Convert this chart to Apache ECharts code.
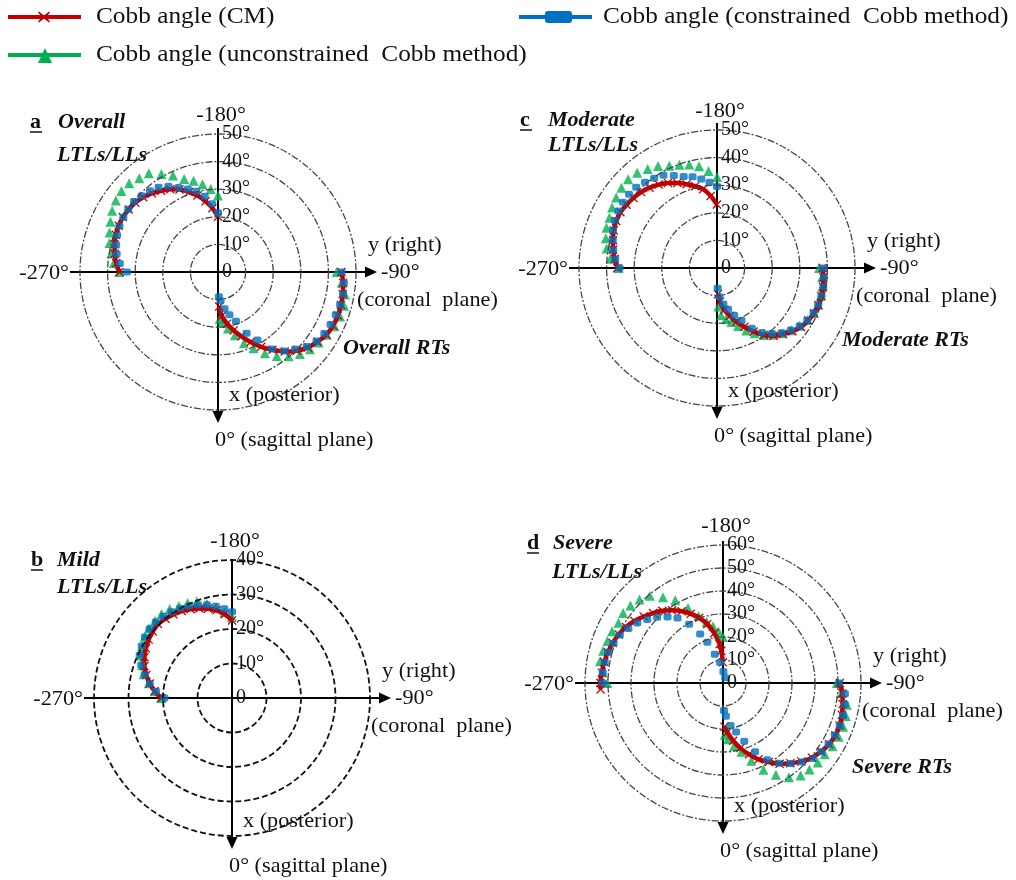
<!DOCTYPE html>
<html>
<head>
<meta charset="utf-8">
<script src="https://cdn.jsdelivr.net/npm/echarts@6/dist/echarts.min.js"></script>
<style>
  html, body { margin: 0; padding: 0; background: #fff; }
  #chart { width: 1016px; height: 880px; }
</style>
</head>
<body>
<div id="chart"></div>
<script>
// Plane-orientation angles (deg): 0 = sagittal (down), -90 = coronal (right), -180 = up, -270 = left
const ANG_LTL = [-180, -185, -190, -195, -200, -205, -210, -215, -220, -225, -230, -235, -240, -245, -250, -255, -260, -265, -270];
const ANG_RT  = [-90, -85, -80, -75, -70, -65, -60, -55, -50, -45, -40, -35, -30, -25, -20, -15, -10, -5, -2];

// a: Overall
const A_LTL_CM  = [20, 23.2, 26, 28.7, 30.8, 33, 34.6, 35.9, 37.2, 38.3, 39.1, 39.5, 39.8, 39.7, 39.4, 38.8, 38, 37, 35.7];
const A_LTL_CON = [21.5, 24.8, 27.9, 30.3, 32, 33.8, 35.9, 37.5, 38.4, 39.1, 39.7, 39.7, 39.6, 39.4, 38.9, 38.2, 37.3, 35.7, 33];
const A_LTL_UNC = [27.7, 30.2, 32.3, 34.2, 35.9, 38.6, 41, 43.7, 44.4, 45.5, 45.7, 45.2, 44.3, 43, 41.8, 40.7, 39.2, 37.9, 35.7];
const A_RT_CM   = [44.7, 45.5, 45.9, 46.1, 46.2, 46, 45.4, 44, 42.5, 40.4, 37.6, 34.4, 31.3, 28, 24.8, 21.9, 19, 16, 12.5];
const A_RT_CON  = [44.8, 45.8, 46, 45.8, 45.4, 45, 44.5, 43.6, 42, 39.5, 37.4, 34.1, 28.5, 24.5, 19, 16, 13.5, 10.5, 9];
const A_RT_UNC  = [43, 45, 46.7, 47.3, 47.1, 46.6, 45.5, 44.5, 43.5, 42, 39.8, 37.2, 34, 30.5, 27.5, 23.7, 20.8, 18.5, 17];

// c: Moderate
const C_LTL_CM  = [23, 26.2, 29, 30.7, 32.3, 34, 35.6, 36.9, 38, 38.9, 39.5, 40, 40.4, 40.3, 39.8, 39, 38.2, 37.2, 36.1];
const C_LTL_CON = [29.5, 31.2, 32.7, 34.2, 35.3, 37, 38.8, 39.7, 40.6, 41.4, 41.6, 41.6, 41.3, 40.8, 40.1, 39.1, 38.2, 37, 35.3];
const C_LTL_UNC = [33, 35.3, 37.4, 38.8, 39.8, 40.9, 42.7, 43.8, 45, 45.5, 45.2, 44.6, 43.9, 43, 42.6, 41.7, 40.6, 38.8, 35.7];
const C_RT_CM   = [38.3, 38.7, 39, 39.1, 39.1, 38.8, 38.1, 37.2, 35.7, 33.8, 32, 29.6, 26.6, 23.5, 20.8, 18, 15.4, 12.2, 9.5];
const C_RT_CON  = [38.5, 38.9, 39.1, 39.2, 39, 38.6, 37.8, 36.6, 35, 33.2, 31, 28.5, 25.2, 21, 18.2, 15.5, 13.2, 10.5, 7.3];
const C_RT_UNC  = [37, 38.2, 38.8, 38.9, 38.9, 38.6, 37.7, 36.5, 35.1, 33.4, 31.6, 29.6, 27.3, 25, 22.4, 20.3, 18.9, 17.2, 14];

// b: Mild (LTLs/LLs only)
const B_LTL_CM  = [22.5, 24.4, 25.8, 26.8, 27.6, 28.4, 29.1, 29.6, 30, 30.3, 30, 29.5, 28.8, 28, 27, 25.7, 24.2, 22.5, 20.5];
const B_LTL_CON = [25, 26, 27, 28, 28.8, 29.4, 30, 30.5, 30.9, 31.2, 31.2, 30.8, 30.2, 29.5, 28, 26.2, 24.2, 22.1, 19.6];
const B_LTL_UNC = [23.5, 25, 26.6, 28.3, 29.8, 30.4, 30.8, 31.5, 31.8, 31.6, 31.4, 30.9, 30.1, 29.1, 27.7, 26.5, 24.5, 22.5, 20.5];

// d: Severe
const D_LTL_CM_ANG  = [-180, -183, -185, -190, -195, -200, -205, -210, -215, -220, -225, -230, -235, -240, -245, -250, -255, -260, -265, -270, -273];
const D_LTL_CM      = [9, 14, 17, 22, 26.5, 30.2, 33.2, 36, 38.6, 41, 43, 45, 47, 48.7, 50, 51, 51.8, 52.4, 52.9, 53.3, 53.3];
const D_LTL_CON_ANG = [-157, -178, -188, -196, -201, -205, -210, -215, -220, -225, -230, -235, -240, -245, -250, -255, -260, -265, -270];
const D_LTL_CON     = [2.5, 5, 9, 13, 19, 23.5, 29.5, 34.5, 37.5, 40.5, 43, 45.5, 47.5, 49.5, 50.6, 51.7, 52.2, 52.5, 52.3];
const D_LTL_UNC     = [20, 22.5, 25, 27.5, 31, 36, 41.5, 45.5, 49.5, 51.3, 52.5, 53, 52.5, 53.2, 53.5, 54, 54.3, 52.5, 50.3];
const D_RT_CM       = [50.8, 52.1, 52.8, 53.5, 53.9, 53.9, 53.2, 52, 50.5, 48.2, 45.5, 42.9, 39.7, 36.6, 33, 29.3, 25.5, 21.5, 19];
const D_RT_CON      = [50.5, 53.2, 53.8, 54, 54, 53.6, 53, 52.2, 51, 48.5, 45.7, 42.6, 38.5, 33, 27, 22, 18.8, 14.5, 12];
const D_RT_UNC      = [49.5, 51.5, 54.7, 55.3, 55.6, 55.4, 55, 54, 53.8, 53.2, 52.5, 50, 46, 41.6, 36, 31, 27.8, 24.5, 22.5];

const SERIES_NAMES = ['Cobb angle (CM)', 'Cobb angle (constrained  Cobb method)', 'Cobb angle (unconstrained  Cobb method)'];
const AXIS_TEXT = { top: '-180°', left: '-270°', right: '-90°', yName: 'y (right)', coronal: '(coronal  plane)', xName: 'x (posterior)', sagittal: '0° (sagittal plane)' };

const RED = '#C00000', BLUE = '#0070C0', GREEN = '#00B050';
const SERIF = '"Liberation Serif", "Times New Roman", serif';
const R = 138;
const CROSS = 'path://M1,0 L5,4 L9,0 L10,1 L6,5 L10,9 L9,10 L5,6 L1,10 L0,9 L4,5 L0,1 Z';

const PANELS = [
  { letter: 'a', title: 'Overall', rt: 'Overall RTs', max: 50, cx: 218, cy: 272, up: 144,
    ring: { color: '#454545', width: 1.3, type: [7, 2, 2, 2] },
    letterOff: [-188, -150], titleOff: [-160, -150], subOff: [-161, -117], rtOff: [125, 76],
    arcs: [
      { cm: [ANG_LTL, A_LTL_CM], con: [ANG_LTL, A_LTL_CON], unc: [ANG_LTL, A_LTL_UNC] },
      { cm: [ANG_RT, A_RT_CM], con: [ANG_RT, A_RT_CON], unc: [ANG_RT, A_RT_UNC] }
    ] },
  { letter: 'c', title: 'Moderate', rt: 'Moderate RTs', max: 50, cx: 717, cy: 268, up: 145,
    ring: { color: '#454545', width: 1.3, type: [7, 2, 2, 2] },
    letterOff: [-197, -148], titleOff: [-169, -148], subOff: [-169, -123], rtOff: [125, 72],
    arcs: [
      { cm: [ANG_LTL, C_LTL_CM], con: [ANG_LTL, C_LTL_CON], unc: [ANG_LTL, C_LTL_UNC] },
      { cm: [ANG_RT, C_RT_CM], con: [ANG_RT, C_RT_CON], unc: [ANG_RT, C_RT_UNC] }
    ] },
  { letter: 'b', title: 'Mild', rt: null, max: 40, cx: 232, cy: 698, up: 139,
    ring: { color: '#111', width: 1.8, type: [6, 3] },
    letterOff: [-201, -138], titleOff: [-175, -138], subOff: [-175, -111], rtOff: null,
    arcs: [
      { cm: [ANG_LTL, B_LTL_CM], con: [ANG_LTL, B_LTL_CON], unc: [ANG_LTL, B_LTL_UNC] }
    ] },
  { letter: 'd', title: 'Severe', rt: 'Severe RTs', max: 60, cx: 723, cy: 683, up: 142,
    ring: { color: '#454545', width: 1.3, type: [7, 2, 2, 2] },
    letterOff: [-196, -140], titleOff: [-170, -140], subOff: [-171, -111], rtOff: [129, 84],
    arcs: [
      { cm: [D_LTL_CM_ANG, D_LTL_CM], con: [D_LTL_CON_ANG, D_LTL_CON], unc: [ANG_LTL, D_LTL_UNC] },
      { cm: [ANG_RT, D_RT_CM], con: [ANG_RT, D_RT_CON], unc: [ANG_RT, D_RT_UNC] }
    ] }
];

// The angle axis runs -180..180 clockwise from the top, so -270 is folded onto +90.
const toAxisAngle = t => (t < -180 ? t + 360 : t);
const polarData = ([angles, values]) => values.map((v, k) => [v, toAxisAngle(angles[k])]);

const polar = [], angleAxis = [], radiusAxis = [], series = [], graphic = [];

function text(x, y, s, o) {
  o = o || {};
  return {
    type: 'text', x, y, z: 10, scaleX: o.scaleX || 1,
    style: {
      text: s, fill: '#111', fontFamily: SERIF, fontSize: o.size || 21,
      fontWeight: o.weight || 'normal', fontStyle: o.style || 'normal',
      textAlign: o.align || 'left', textVerticalAlign: 'middle'
    }
  };
}

PANELS.forEach((p, i) => {
  polar.push({ center: [p.cx, p.cy], radius: R });
  angleAxis.push({
    polarIndex: i, type: 'value', min: -180, max: 180, startAngle: 90, clockwise: true,
    axisLine: { show: false }, axisTick: { show: false }, axisLabel: { show: false }, splitLine: { show: false }
  });
  radiusAxis.push({
    polarIndex: i, type: 'value', min: 0, max: p.max, interval: 10, z: 6,
    axisLine: { show: false }, axisTick: { show: false },
    axisLabel: {
      show: true, margin: -4, align: 'left', verticalAlign: 'middle',
      fontFamily: SERIF, fontSize: 20, color: '#141414',
      formatter: v => (v === 0 ? '0' : v + '°')
    },
    splitLine: { show: true, lineStyle: p.ring }
  });

  p.arcs.forEach(arc => {
    series.push({
      name: SERIES_NAMES[2], type: 'scatter', coordinateSystem: 'polar', polarIndex: i,
      symbol: 'triangle', symbolSize: 10, itemStyle: { color: GREEN }, z: 2,
      data: polarData(arc.unc)
    });
    series.push({
      name: SERIES_NAMES[0], type: 'line', coordinateSystem: 'polar', polarIndex: i,
      smooth: 0.3, symbol: CROSS, symbolSize: 9, showSymbol: true,
      lineStyle: { color: RED, width: 4.5 }, itemStyle: { color: RED }, z: 3,
      data: polarData(arc.cm)
    });
    series.push({
      name: SERIES_NAMES[1], type: 'scatter', coordinateSystem: 'polar', polarIndex: i,
      symbol: 'roundRect', symbolSize: [8, 7], itemStyle: { color: BLUE }, z: 4,
      data: polarData(arc.con)
    });
  });

  // x / y reference axes with arrow heads
  const { cx, cy } = p;
  const axisStroke = { stroke: '#000', lineWidth: 2 };
  graphic.push({ type: 'line', z: 1, shape: { x1: cx, y1: cy - p.up, x2: cx, y2: cy + 140 }, style: axisStroke });
  graphic.push({ type: 'polygon', z: 1, shape: { points: [[cx - 5.5, cy + 139], [cx + 5.5, cy + 139], [cx, cy + 151]] }, style: { fill: '#000' } });
  graphic.push({ type: 'line', z: 1, shape: { x1: cx - 148, y1: cy, x2: cx + 148, y2: cy }, style: axisStroke });
  graphic.push({ type: 'polygon', z: 1, shape: { points: [[cx + 147, cy - 5.5], [cx + 147, cy + 5.5], [cx + 159, cy]] }, style: { fill: '#000' } });

  const sx = 1.06;
  graphic.push(text(cx + 3, cy - 157, AXIS_TEXT.top, { align: 'center', scaleX: sx }));
  graphic.push(text(cx - 149, cy + 1, AXIS_TEXT.left, { align: 'right', scaleX: sx }));
  graphic.push(text(cx + 163, cy, AXIS_TEXT.right, { scaleX: sx }));
  graphic.push(text(cx + 150, cy - 27, AXIS_TEXT.yName, { scaleX: sx }));
  graphic.push(text(cx + 139, cy + 28, AXIS_TEXT.coronal, { scaleX: sx }));
  graphic.push(text(cx + 11, cy + 123, AXIS_TEXT.xName, { scaleX: sx }));
  graphic.push(text(cx - 3, cy + 168, AXIS_TEXT.sagittal, { scaleX: sx }));

  // panel letter (underlined) and group titles
  const lx = cx + p.letterOff[0], ly = cy + p.letterOff[1];
  graphic.push(text(lx, ly, p.letter, { size: 22, weight: 'bold' }));
  graphic.push({ type: 'line', z: 10, shape: { x1: lx, y1: ly + 10, x2: lx + 12, y2: ly + 10 }, style: { stroke: '#111', lineWidth: 1.5 } });
  graphic.push(text(cx + p.titleOff[0], cy + p.titleOff[1], p.title, { size: 22, weight: 'bold', style: 'italic' }));
  graphic.push(text(cx + p.subOff[0], cy + p.subOff[1], 'LTLs/LLs', { size: 22, weight: 'bold', style: 'italic' }));
  if (p.rt) graphic.push(text(cx + p.rtOff[0], cy + p.rtOff[1], p.rt, { size: 22, weight: 'bold', style: 'italic' }));
});

// legend
const LEG = [
  { name: SERIES_NAMES[0], color: RED, x: 8, y: 17, tx: 96 },
  { name: SERIES_NAMES[1], color: BLUE, x: 519, y: 17, tx: 603 },
  { name: SERIES_NAMES[2], color: GREEN, x: 8, y: 55, tx: 96 }
];
LEG.forEach((l, k) => {
  graphic.push({ type: 'line', z: 10, shape: { x1: l.x, y1: l.y, x2: l.x + 73, y2: l.y }, style: { stroke: l.color, lineWidth: 4 } });
  const mx = l.x + 36;
  if (k === 0) {
    const c = [[0, 0], [5, 4], [10, 0], [11, 1], [7, 5.5], [11, 10], [10, 11], [5, 7], [0, 11], [-1, 10], [3, 5.5], [-1, 1]];
    graphic.push({ type: 'polygon', z: 11, shape: { points: c.map(([px, py]) => [mx - 5 + px, l.y - 5.5 + py]) }, style: { fill: l.color } });
  } else if (k === 1) {
    graphic.push({ type: 'rect', z: 11, shape: { x: mx - 10, y: l.y - 6, width: 27, height: 12, r: 3 }, style: { fill: l.color } });
  } else {
    graphic.push({ type: 'polygon', z: 11, shape: { points: [[mx - 6, l.y + 8], [mx + 8, l.y + 8], [mx + 1, l.y - 7]] }, style: { fill: l.color } });
  }
  graphic.push(text(l.tx, l.y, l.name, { size: 23, scaleX: 1.1 }));
});

const chart = echarts.init(document.getElementById('chart'), null, { renderer: 'canvas' });
chart.setOption({
  backgroundColor: '#fff',
  animation: false,
  polar, angleAxis, radiusAxis, series, graphic
});
</script>
</body>
</html>
